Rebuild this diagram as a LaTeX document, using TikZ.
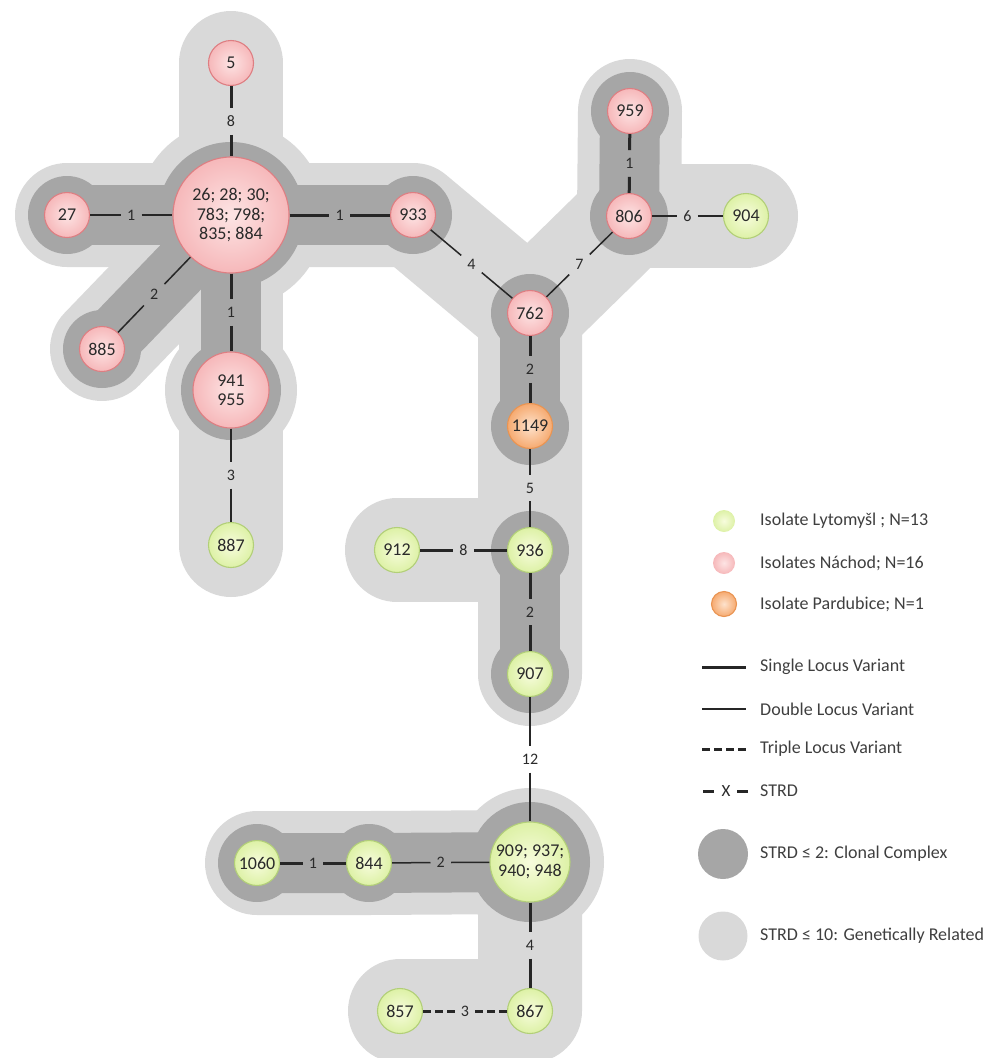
\documentclass[tikz,border=0pt]{standalone}
\usepackage{fontspec}
\setmainfont{Carlito}
\usetikzlibrary{backgrounds}
\definecolor{pinkin}{HTML}{FDE4E4}
\definecolor{pinkout}{HTML}{F6B8BA}
\definecolor{pinkline}{HTML}{DE7E82}
\definecolor{greenin}{HTML}{F7FCDD}
\definecolor{greenout}{HTML}{DDF1A6}
\definecolor{greenline}{HTML}{B2CF78}
\definecolor{orangein}{HTML}{FDE2CC}
\definecolor{orangeout}{HTML}{F6AA70}
\definecolor{orangeline}{HTML}{E99452}
\definecolor{lightbg}{HTML}{D9D9D9}
\definecolor{darkbg}{HTML}{A6A6A6}
\definecolor{txtgray}{HTML}{2A2A2A}

\begin{document}
\begin{tikzpicture}[x=1pt,y=-1pt,
  iso/.style={circle,draw,line width=1.1pt,inner sep=0pt,minimum size=45pt,align=center,
    font=\fontsize{18}{19.5}\selectfont,text=txtgray},
  nach/.style={iso,draw=pinkline,inner color=pinkin,outer color=pinkout},
  lyto/.style={iso,draw=greenline,inner color=greenin,outer color=greenout},
  pard/.style={iso,draw=orangeline,inner color=orangein,outer color=orangeout},
  elbl/.style={inner xsep=6pt,inner ysep=8pt,font=\fontsize{16}{17}\selectfont,text=txtgray},
  lgtext/.style={anchor=west,inner sep=0pt,font=\fontsize{18}{19}\selectfont,text=txtgray!90},
  slv/.style={line width=3pt,draw=black!85},
  dlv/.style={line width=1.5pt,draw=black!85},
  tlv/.style={line width=3pt,draw=black!85,dash pattern=on 8pt off 4pt},
  grel/.style={draw=lightbg,line width=104pt,line cap=round,line join=round},
  clon/.style={draw=darkbg,line width=60pt,line cap=round,line join=round}]
\useasboundingbox (0,0) rectangle (1000,1058);

% isolates
\node[nach] (n5) at (231,63) {5};
\node[nach,minimum size=116pt] (c0) at (231,215) {26; 28; 30;\\783; 798;\\835; 884};
\node[nach] (n27) at (67,215) {27};
\node[nach] (n933) at (413,215) {933};
\node[nach] (n885) at (102,349) {885};
\node[nach,minimum size=76pt] (n941) at (231,390) {941\\955};
\node[lyto] (n887) at (231,545) {887};
\node[nach] (n959) at (630,111) {959};
\node[nach] (n806) at (629,216) {806};
\node[lyto] (n904) at (746,216) {904};
\node[nach] (n762) at (530,313) {762};
\node[pard] (n1149) at (530,426) {1149};
\node[lyto] (n936) at (530,550) {936};
\node[lyto] (n912) at (397,550) {912};
\node[lyto] (n907) at (530,674) {907};
\node[lyto,minimum size=80pt] (n909) at (530,862) {909; 937;\\940; 948};
\node[lyto] (n844) at (369,863) {844};
\node[lyto] (n1060) at (257,863) {1060};
\node[lyto] (n867) at (530,1011) {867};
\node[lyto] (n857) at (400,1011) {857};

% links with STRD
\path (n5) -- node[elbl] (e1) {8} (c0);
\draw[slv] (n5) -- (e1) -- (c0);
\path (n27) -- node[elbl] (e2) {1} (c0);
\draw[dlv] (n27) -- (e2) -- (c0);
\path (c0) -- node[elbl] (e3) {1} (n933);
\draw[slv] (c0) -- (e3) -- (n933);
\path (c0) -- node[elbl] (e4) {2} (n885);
\draw[dlv] (c0) -- (e4) -- (n885);
\path (c0) -- node[elbl] (e5) {1} (n941);
\draw[slv] (c0) -- (e5) -- (n941);
\path (n941) -- node[elbl] (e6) {3} (n887);
\draw[dlv] (n941) -- (e6) -- (n887);
\path (n933) -- node[elbl] (e7) {4} (n762);
\draw[dlv] (n933) -- (e7) -- (n762);
\path (n806) -- node[elbl] (e8) {7} (n762);
\draw[dlv] (n806) -- (e8) -- (n762);
\path (n959) -- node[elbl] (e9) {1} (n806);
\draw[slv] (n959) -- (e9) -- (n806);
\path (n806) -- node[elbl] (e10) {6} (n904);
\draw[dlv] (n806) -- (e10) -- (n904);
\path (n762) -- node[elbl] (e11) {2} (n1149);
\draw[slv] (n762) -- (e11) -- (n1149);
\path (n1149) -- node[elbl] (e12) {5} (n936);
\draw[dlv] (n1149) -- (e12) -- (n936);
\path (n912) -- node[elbl] (e13) {8} (n936);
\draw[slv] (n912) -- (e13) -- (n936);
\path (n936) -- node[elbl] (e14) {2} (n907);
\draw[slv] (n936) -- (e14) -- (n907);
\path (n907) -- node[elbl] (e15) {12} (n909);
\draw[dlv] (n907) -- (e15) -- (n909);
\path (n1060) -- node[elbl] (e16) {1} (n844);
\draw[slv] (n1060) -- (e16) -- (n844);
\path (n844) -- node[elbl] (e17) {2} (n909);
\draw[dlv] (n844) -- (e17) -- (n909);
\path (n909) -- node[elbl] (e18) {4} (n867);
\draw[slv] (n909) -- (e18) -- (n867);
\path (n857) -- node[elbl] (e19) {3} (n867);
\draw[tlv] (n857) -- (e19) -- (n867);

% groups behind
\begin{pgfonlayer}{background}
% STRD <= 10
\draw[grel] (n5.center) -- (c0.center) -- (n941.center) -- (n887.center);
\draw[grel] (n27.center) -- (c0.center) -- (n933.center) -- (n762.center) -- (n1149.center) -- (n936.center) -- (n907.center);
\draw[grel] (c0.center) -- (n885.center);
\draw[grel] (n762.center) -- (n806.center) -- (n959.center);
\draw[grel] (n806.center) -- (n904.center);
\draw[grel] (n912.center) -- (n936.center);
\draw[grel] (n1060.center) -- (n844.center) -- (n909.center) -- (n867.center) -- (n857.center);
\fill[lightbg] (c0) circle (94pt);
\fill[lightbg] (n941) circle (66pt);
\fill[lightbg] (n909) circle (74pt);
% STRD <= 2
\draw[clon] (n27.center) -- (c0.center) -- (n933.center);
\draw[clon] (c0.center) -- (n941.center);
\draw[clon] (c0.center) -- (n885.center);
\draw[clon] (n959.center) -- (n806.center);
\draw[clon] (n762.center) -- (n1149.center);
\draw[clon] (n936.center) -- (n907.center);
\draw[clon] (n1060.center) -- (n844.center) -- (n909.center);
\fill[darkbg] (c0) circle (73pt);
\fill[darkbg] (n941) circle (50pt);
\fill[darkbg] (n909) circle (60pt);
\foreach \n in {n27,n933,n885,n959,n806,n762,n1149,n936,n907,n1060,n844}
  \fill[darkbg] (\n) circle (39pt);
\end{pgfonlayer}

% legend
\node[circle,minimum size=22pt,inner sep=0pt,inner color=greenin,outer color=greenout] (kgreen) at (724,521) {};
\node[lgtext] (tgreen) at (760,521) {Isolate Lytomyšl ; N=13};
\node[circle,minimum size=22pt,inner sep=0pt,inner color=pinkin,outer color=pinkout] (kpink) at (724,563) {};
\node[lgtext] (tpink) at (760,563) {Isolates Náchod; N=16};
\node[circle,minimum size=25pt,inner sep=0pt,draw=orangeline,line width=1.1pt,inner color=orangein,outer color=orangeout] (korange) at (724,604) {};
\node[lgtext] (torange) at (760,604) {Isolate Pardubice; N=1};
\coordinate (ks1) at (702,667); \coordinate (ks2) at (746,667);
\draw[slv] (ks1) -- (ks2);
\node[lgtext] (tsingle) at (760,667) {Single Locus Variant};
\coordinate (kd1) at (702,709); \coordinate (kd2) at (746,709);
\draw[dlv] (kd1) -- (kd2);
\node[lgtext] (tdouble) at (760,709) {Double Locus Variant};
\coordinate (kt1) at (702,749); \coordinate (kt2) at (747,749);
\draw[slv,dash pattern=on 8pt off 4pt] (kt1) -- (kt2);
\node[lgtext] (ttriple) at (760,749) {Triple Locus Variant};
\node[font=\fontsize{17}{18}\selectfont,text=txtgray,inner sep=0pt] (kx) at (726,791) {X};
\coordinate (kx1) at (703,791); \coordinate (kx2) at (748,791);
\draw[slv] (kx1) -- +(11,0);
\draw[slv] (kx2) -- +(-11,0);
\node[lgtext] (tstrd) at (760,791) {STRD};
\node[circle,fill=darkbg,minimum size=50pt,inner sep=0pt] (kdark) at (723,854) {};
\node[lgtext] (tdark) at (760,854) {STRD ≤ 2: Clonal Complex};
\node[circle,fill=lightbg,minimum size=49pt,inner sep=0pt] (klight) at (723,936) {};
\node[lgtext] (tlight) at (760,936) {STRD ≤ 10: Genetically Related};
\end{tikzpicture}
\end{document}
